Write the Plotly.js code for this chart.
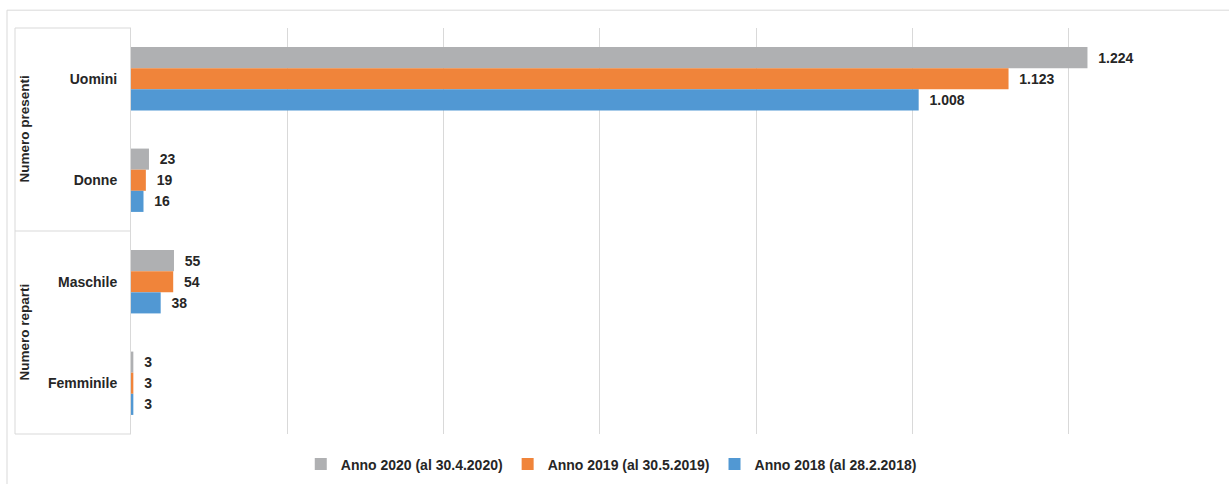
<!DOCTYPE html>
<html>
<head>
<meta charset="utf-8">
<script src="https://cdn.plot.ly/plotly-3.0.1.min.js"></script>
<style>html,body{margin:0;padding:0;background:#fff;}#chart{width:1229px;height:484px;}</style>
</head>
<body>
<div id="chart"></div>
<script>
const categories = ["Uomini", "Donne", "Maschile", "Femminile"];
const groups = ["Numero presenti", "Numero reparti"];
const seriesNames = ["Anno 2020 (al 30.4.2020)", "Anno 2019 (al 30.5.2019)", "Anno 2018 (al 28.2.2018)"];
const values2020 = [1224, 23, 55, 3];
const values2019 = [1123, 19, 54, 3];
const values2018 = [1008, 16, 38, 3];
const colors = ["#AFB0B2", "#F0843A", "#5198D3"];

const allValues = [values2020, values2019, values2018];
const font = {family: "Liberation Sans, Arial, sans-serif", size: 14, color: "#262626", weight: "bold"};
const groupFont = {family: "Liberation Sans, Arial, sans-serif", size: 13.5, color: "#262626", weight: "bold"};

const traces = allValues.map((vals, i) => ({
  type: "bar",
  orientation: "h",
  name: seriesNames[i],
  y: categories,
  x: vals,
  marker: {color: colors[i], line: {width: 0}},
  text: vals,
  texttemplate: "\u00a0\u00a0%{x:,}",
  textposition: "outside",
  cliponaxis: false,
  textfont: font,
  hoverinfo: "x+name"
}));

const L = 131, R = 1225, T = 28, B = 438;
const W = R - L, H = B - T;
const px = x => (x - L) / W;
const py = y => (B - y) / H;
const lc = "#D9D9D9";

const shapes = [
  {type: "rect", xref: "paper", yref: "paper", x0: px(7), x1: px(1300), y0: py(10), y1: py(600), line: {color: lc, width: 1}, layer: "below"},
  {type: "line", xref: "paper", yref: "paper", x0: px(15), x1: px(15), y0: 1, y1: 0, line: {color: lc, width: 1}},
  {type: "line", xref: "paper", yref: "paper", x0: px(15), x1: 0, y0: 1, y1: 1, line: {color: lc, width: 1}},
  {type: "line", xref: "paper", yref: "paper", x0: px(15), x1: 0, y0: 0.5, y1: 0.5, line: {color: lc, width: 1}},
  {type: "line", xref: "paper", yref: "paper", x0: px(15), x1: 0, y0: 0, y1: 0, line: {color: lc, width: 1}}
];

const annotations = groups.map((g, i) => ({
  xref: "paper", yref: "paper",
  x: px(24), y: i === 0 ? 0.75 : 0.25,
  text: g, showarrow: false, textangle: -90,
  font: groupFont, xanchor: "center", yanchor: "middle"
}));

const layout = {
  width: 1229, height: 484,
  margin: {l: L, r: 1229 - R, t: T, b: 484 - B},
  paper_bgcolor: "#fff", plot_bgcolor: "#fff",
  separators: ",.",
  barmode: "group",
  bargap: 0.376,
  bargroupgap: 0,
  font: font,
  showlegend: true,
  legend: {orientation: "h", x: 0.439, xanchor: "center", y: -0.075, yanchor: "middle", font: font, traceorder: "normal"},
  xaxis: {range: [0, 1400], dtick: 200, tick0: 0, showticklabels: false, showgrid: true, gridcolor: lc, gridwidth: 1, zeroline: false, showline: false, fixedrange: true},
  yaxis: {type: "category", categoryorder: "array", categoryarray: categories, autorange: "reversed", showline: true, linecolor: lc, linewidth: 1, ticks: "", ticklabelstandoff: 10, tickfont: font, showgrid: false, fixedrange: true},
  shapes: shapes,
  annotations: annotations
};

Plotly.newPlot("chart", traces, layout, {displayModeBar: false, staticPlot: true});
</script>
</body>
</html>
